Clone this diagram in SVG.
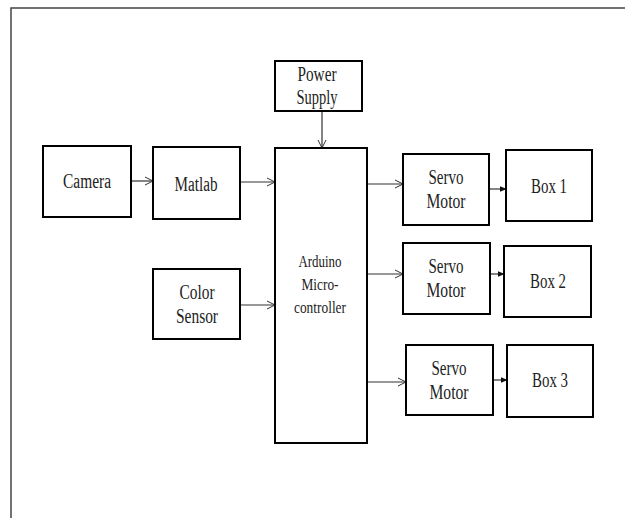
<svg xmlns="http://www.w3.org/2000/svg" width="625" height="518" viewBox="0 0 625 518">
<defs>
<style>
.box{fill:#fff;stroke:#000;stroke-width:2}
.t{font-family:"Liberation Serif","Times New Roman",serif;font-size:20px;fill:#222;text-anchor:middle}
.s{font-size:17px}
.c{fill:none;stroke:#333;stroke-width:1.2}
</style>
<marker id="open" viewBox="0 0 10 10" refX="9" refY="5" markerWidth="10" markerHeight="10" markerUnits="userSpaceOnUse" orient="auto">
<path d="M1,1 L9,5 L1,9" fill="none" stroke="#333" stroke-width="1"/>
</marker>
<marker id="solid" viewBox="0 0 10 10" refX="9" refY="5" markerWidth="7" markerHeight="7" markerUnits="userSpaceOnUse" orient="auto">
<path d="M0,1 L10,5 L0,9 Z" fill="#111"/>
</marker>
</defs>
<rect width="625" height="518" fill="#fff"/>
<path d="M11,518 V8 H625" fill="none" stroke="#444" stroke-width="1.5"/>
<g id="connectors">
<line class="c" x1="131" y1="181" x2="153" y2="181" marker-end="url(#open)"/>
<line class="c" x1="240" y1="182" x2="275" y2="182" marker-end="url(#open)"/>
<line class="c" x1="240" y1="305" x2="275" y2="305" marker-end="url(#open)"/>
<line class="c" x1="322" y1="111" x2="322" y2="148" marker-end="url(#open)" stroke="#777"/>
<line class="c" x1="367" y1="184" x2="403" y2="184" marker-end="url(#open)"/>
<line class="c" x1="367" y1="274" x2="403" y2="274" marker-end="url(#open)"/>
<line class="c" x1="367" y1="382" x2="406" y2="382" marker-end="url(#open)"/>
<line class="c" x1="489" y1="189" x2="506" y2="189" marker-end="url(#solid)"/>
<line class="c" x1="490" y1="274" x2="504" y2="274" marker-end="url(#solid)"/>
<line class="c" x1="493" y1="380" x2="507" y2="380" marker-end="url(#solid)"/>
</g>
<g id="camera"><rect class="box" x="43" y="146" width="88" height="71"/><text class="t" x="87" y="188" textLength="48" lengthAdjust="spacingAndGlyphs">Camera</text></g>
<g id="matlab"><rect class="box" x="153" y="147" width="87" height="72"/><text class="t" x="196" y="191" textLength="43" lengthAdjust="spacingAndGlyphs">Matlab</text></g>
<g id="color-sensor"><rect class="box" x="153" y="269" width="87" height="70"/><text class="t" x="197" y="299" textLength="35" lengthAdjust="spacingAndGlyphs">Color</text><text class="t" x="197" y="323" textLength="42" lengthAdjust="spacingAndGlyphs">Sensor</text></g>
<g id="power-supply"><rect class="box" x="275" y="61" width="87" height="50"/><text class="t" x="317" y="81" textLength="39" lengthAdjust="spacingAndGlyphs">Power</text><text class="t" x="317" y="104" textLength="41" lengthAdjust="spacingAndGlyphs">Supply</text></g>
<g id="arduino"><rect class="box" x="275" y="148" width="92" height="295"/><text class="t s" x="320" y="267" textLength="43" lengthAdjust="spacingAndGlyphs">Arduino</text><text class="t s" x="320" y="290" textLength="37" lengthAdjust="spacingAndGlyphs">Micro-</text><text class="t s" x="320" y="313" textLength="52" lengthAdjust="spacingAndGlyphs">controller</text></g>
<g id="servo1"><rect class="box" x="403" y="154" width="86" height="71"/><text class="t" x="446" y="184" textLength="35" lengthAdjust="spacingAndGlyphs">Servo</text><text class="t" x="446" y="208" textLength="39" lengthAdjust="spacingAndGlyphs">Motor</text></g>
<g id="box1"><rect class="box" x="506" y="150" width="86" height="71"/><text class="t" x="549" y="193" textLength="36" lengthAdjust="spacingAndGlyphs">Box 1</text></g>
<g id="servo2"><rect class="box" x="403" y="243" width="87" height="71"/><text class="t" x="446" y="273" textLength="35" lengthAdjust="spacingAndGlyphs">Servo</text><text class="t" x="446" y="297" textLength="39" lengthAdjust="spacingAndGlyphs">Motor</text></g>
<g id="box2"><rect class="box" x="504" y="246" width="87" height="71"/><text class="t" x="548" y="288" textLength="36" lengthAdjust="spacingAndGlyphs">Box 2</text></g>
<g id="servo3"><rect class="box" x="406" y="345" width="87" height="70"/><text class="t" x="449" y="375" textLength="35" lengthAdjust="spacingAndGlyphs">Servo</text><text class="t" x="449" y="399" textLength="39" lengthAdjust="spacingAndGlyphs">Motor</text></g>
<g id="box3"><rect class="box" x="507" y="345" width="86" height="72"/><text class="t" x="550" y="387" textLength="36" lengthAdjust="spacingAndGlyphs">Box 3</text></g>
</svg>
